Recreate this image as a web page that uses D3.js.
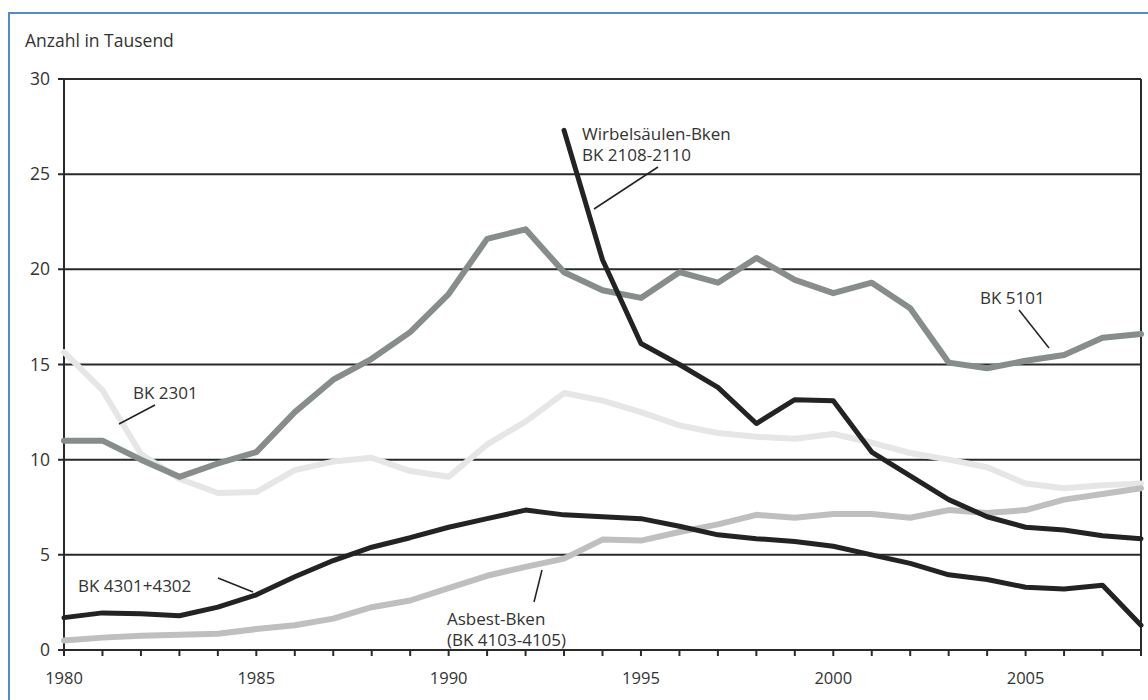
<!DOCTYPE html>
<html>

<head>
    <title>Berufskrankheiten</title>
    <script src="https://d3js.org/d3.v7.min.js"></script>
    <style>
        body { margin: 0; background: #fff; }
        text { font-family: "Open Sans", "Liberation Sans", Arial, sans-serif; fill: #333; }
    </style>
</head>

<body>
    <script>
        // Werte in Tausend
        const years = d3.range(1980, 2009);
        const yTicks = [0, 5, 10, 15, 20, 25, 30];
        const xLabels = [1980, 1985, 1990, 1995, 2000, 2005];

        const bk5101 = [11.0, 11.0, 10.0, 9.1, 9.8, 10.4, 12.5, 14.2, 15.3, 16.7, 18.7, 21.6, 22.1, 19.85, 18.9,
            18.5, 19.85, 19.3, 20.6, 19.45, 18.75, 19.3, 17.95, 15.1, 14.8, 15.2, 15.5, 16.4, 16.6];
        const bk2301 = [15.65, 13.65, 10.3, 9.0, 8.25, 8.3, 9.45, 9.9, 10.1, 9.4, 9.1, 10.8, 12.0, 13.5, 13.1,
            12.5, 11.8, 11.4, 11.2, 11.1, 11.35, 10.9, 10.35, 10.0, 9.6, 8.75, 8.5, 8.65, 8.75];
        const wirbel = [null, null, null, null, null, null, null, null, null, null, null, null, null, 27.3, 20.5,
            16.1, 15.0, 13.8, 11.9, 13.15, 13.1, 10.4, 9.15, 7.9, 7.0, 6.45, 6.3, 6.0, 5.85];
        const bk4301 = [1.7, 1.95, 1.9, 1.8, 2.25, 2.9, 3.85, 4.7, 5.4, 5.9, 6.45, 6.9, 7.35, 7.1, 7.0,
            6.9, 6.5, 6.05, 5.85, 5.7, 5.45, 5.0, 4.55, 3.95, 3.7, 3.3, 3.2, 3.4, 1.3];
        const asbest = [0.5, 0.65, 0.75, 0.8, 0.85, 1.1, 1.3, 1.65, 2.25, 2.6, 3.25, 3.9, 4.37, 4.8, 5.8,
            5.75, 6.2, 6.6, 7.1, 6.95, 7.15, 7.15, 6.95, 7.35, 7.2, 7.35, 7.9, 8.2, 8.5];

        const series = [
            { name: "BK 2301", values: bk2301, color: "#e6e6e6", width: 6 },
            { name: "Asbest-Bken", values: asbest, color: "#bfbfbf", width: 6 },
            { name: "BK 5101", values: bk5101, color: "#868d8b", width: 6 },
            { name: "BK 4301+4302", values: bk4301, color: "#232323", width: 5 },
            { name: "Wirbelsäulen-Bken", values: wirbel, color: "#232323", width: 5 }
        ];

        const width = 1148, height = 700;
        const margin = { left: 64, right: 7, top: 79, bottom: 50 };

        const svg = d3.select("body").append("svg")
            .attr("width", width)
            .attr("height", height);

        // blauer Rahmen (rechts/unten angeschnitten)
        svg.append("rect")
            .attr("x", 9).attr("y", 13)
            .attr("width", 1160).attr("height", 700)
            .attr("fill", "none")
            .attr("stroke", "#4f8fc6")
            .attr("stroke-width", 2);

        const x = d3.scaleLinear()
            .domain([1980, 2008])
            .range([margin.left, width - margin.right]);
        const y = d3.scaleLinear()
            .domain([0, 30])
            .range([height - margin.bottom, margin.top]);

        svg.append("text")
            .attr("x", 25).attr("y", 47)
            .style("font-size", "17.5px")
            .text("Anzahl in Tausend");

        // Gitterlinien
        svg.append("g")
            .selectAll("line")
            .data(yTicks)
            .enter().append("line")
            .attr("x1", x(1980) - 6).attr("x2", x(2008))
            .attr("y1", d => y(d)).attr("y2", d => y(d))
            .attr("stroke", "#2a2a2a")
            .attr("stroke-width", 2);

        // senkrechte Achsen links und rechts
        svg.append("g")
            .selectAll("line")
            .data([1980, 2008])
            .enter().append("line")
            .attr("x1", d => x(d)).attr("x2", d => x(d))
            .attr("y1", y(30)).attr("y2", y(0))
            .attr("stroke", "#2a2a2a")
            .attr("stroke-width", 2);

        // Jahres-Ticks
        svg.append("g")
            .selectAll("line")
            .data(years)
            .enter().append("line")
            .attr("x1", d => x(d)).attr("x2", d => x(d))
            .attr("y1", y(0)).attr("y2", y(0) + 6)
            .attr("stroke", "#2a2a2a")
            .attr("stroke-width", 2);

        svg.append("g")
            .selectAll("text")
            .data(yTicks)
            .enter().append("text")
            .attr("x", 50)
            .attr("y", d => y(d))
            .attr("dy", "0.35em")
            .attr("text-anchor", "end")
            .style("font-size", "17.5px")
            .text(d => d);

        svg.append("g")
            .selectAll("text")
            .data(xLabels)
            .enter().append("text")
            .attr("x", d => x(d))
            .attr("y", 684)
            .attr("text-anchor", "middle")
            .style("font-size", "16.5px")
            .text(d => d);

        const line = d3.line()
            .defined(d => d[1] != null)
            .x(d => x(d[0]))
            .y(d => y(d[1]));

        svg.append("g")
            .selectAll("path")
            .data(series)
            .enter().append("path")
            .attr("d", d => line(years.map((yr, i) => [yr, d.values[i]])))
            .attr("fill", "none")
            .attr("stroke", d => d.color)
            .attr("stroke-width", d => d.width)
            .attr("stroke-linejoin", "round")
            .attr("stroke-linecap", "round");

        // Beschriftungen mit Hinweislinien
        const labels = [
            { lines: ["BK 2301"], x: 133, y: 399, lx: [155, 119], ly: [405, 424] },
            { lines: ["BK 4301+4302"], x: 78, y: 592, lx: [218, 253], ly: [578, 592] },
            { lines: ["Asbest-Bken", "(BK 4103-4105)"], x: 447, y: 625, lx: [542, 534], ly: [570, 602] },
            { lines: ["Wirbelsäulen-Bken", "BK 2108-2110"], x: 582, y: 140, lx: [658, 594], ly: [167, 209] },
            { lines: ["BK 5101"], x: 980, y: 304, lx: [1019, 1049], ly: [310, 348] }
        ];

        const lab = svg.append("g").selectAll("g")
            .data(labels)
            .enter().append("g");

        lab.append("line")
            .attr("x1", d => d.lx[0]).attr("x2", d => d.lx[1])
            .attr("y1", d => d.ly[0]).attr("y2", d => d.ly[1])
            .attr("stroke", "#222")
            .attr("stroke-width", 1.5);

        lab.each(function (d) {
            d3.select(this).selectAll("text")
                .data(d.lines)
                .enter().append("text")
                .attr("x", d.x)
                .attr("y", (t, i) => d.y + i * 21)
                .style("font-size", "17px")
                .text(t => t);
        });
    </script>
</body>

</html>
